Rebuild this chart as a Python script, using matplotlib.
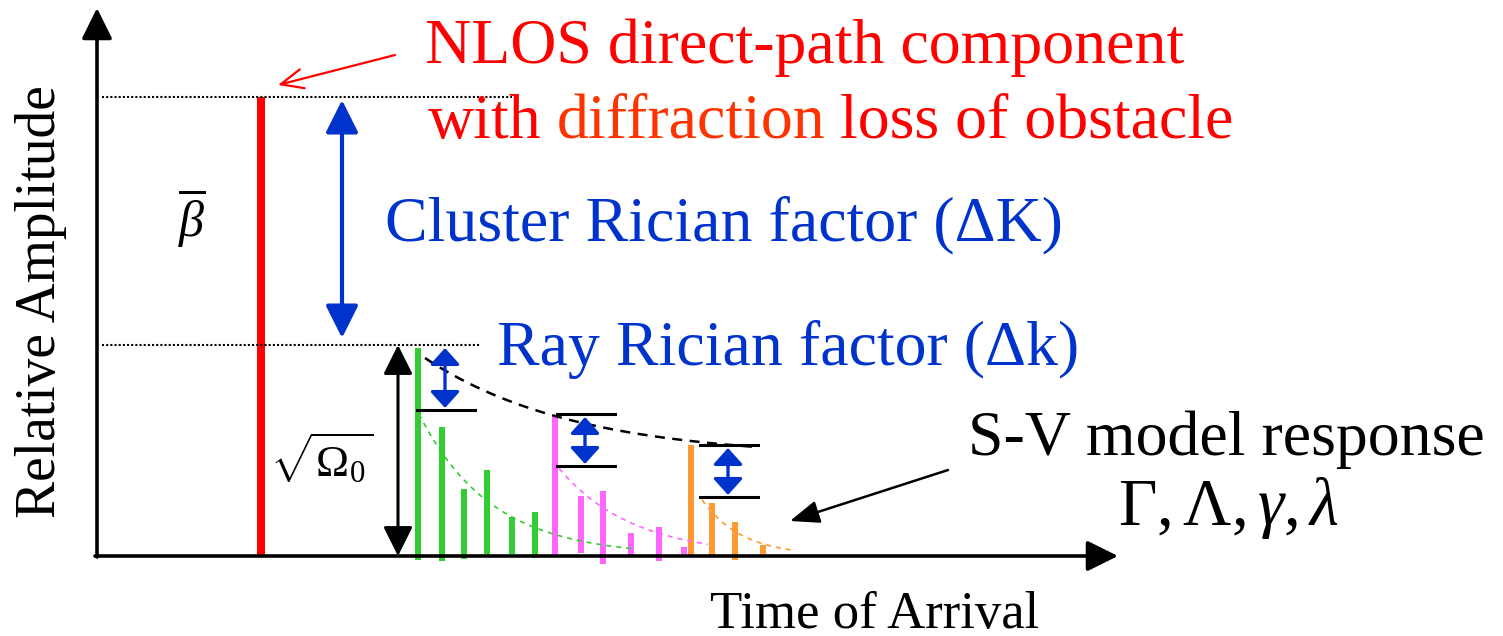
import numpy as np
import matplotlib
matplotlib.use("Agg")
import matplotlib.pyplot as plt

plt.rcParams["font.family"] = ["Liberation Serif", "DejaVu Serif"]
plt.rcParams["mathtext.fontset"] = "custom"
plt.rcParams["mathtext.rm"] = "Liberation Serif"
plt.rcParams["mathtext.it"] = "Liberation Serif:italic"

# direct (NLOS) path
los_t, los_amp = 164, 459

# rays of the three clusters: arrival time, amplitude, foot of the bar
green_t = [321, 345, 367, 390, 415, 438]
green_amp = [208, 129, 67, 86, 39, 44]
green_base = [-4, -5, -3, 2, 2, -2]
pink_t = [458, 484, 506, 534, 562, 587]
pink_amp = [141, 60, 65, 23, 29, 9]
pink_base = [2, 3, -8, 1, -5, 2]
orange_t = [594, 615, 638, 666]
orange_amp = [111, 53, 34, 11]
orange_base = [0, -1, -4, 2]

# cluster heads: upper level (first ray) and lower level (start of ray decay)
cluster_t = [320, 460, 603]
cluster_hi = [211, 142, 111]
cluster_lo = [146, 90, 59]
ray_gamma = [72, 74, 40]
ray_end = [536, 611, 696]

# cluster envelope (Gamma) with floor
env_t0, env_t1 = 328, 662
env_floor, env_a, env_gamma = 98, 100, 150

BLUE = "#0033CC"
RED = "#FF0000"
cols = ["#33CC33", "#FF66FF", "#FF9933"]


def arrow(xy, xytext, style, color, lw):
    ax.annotate("", xy=xy, xytext=xytext,
                arrowprops=dict(arrowstyle=style, lw=lw, color=color,
                                mutation_scale=20, shrinkA=0, shrinkB=0))


fig = plt.figure(figsize=(15.03, 6.36), dpi=100)
ax = fig.add_axes([0, 0, 1, 1])
ax.set_xlim(-97, 1406)
ax.set_ylim(-80, 556)
ax.axis("off")

# axes with arrow heads
arrow((0, 548), (0, -1), "-|>,head_length=0.95,head_width=0.47", "black", 2.6)
arrow((1021, 0), (-2, 0), "-|>,head_length=0.95,head_width=0.47", "black", 2.6)

# reference levels
ax.plot([5, 415], [los_amp, los_amp], color="black", lw=1.5, ls=(0, (1, 1)))
ax.plot([5, 383], [cluster_hi[0], cluster_hi[0]], color="black", lw=1.5, ls=(0, (1, 1)))

# bars
ax.bar(los_t, los_amp, width=8, color=RED)
for t, a, b, c in [(green_t, green_amp, green_base, cols[0]),
                   (pink_t, pink_amp, pink_base, cols[1]),
                   (orange_t, orange_amp, orange_base, cols[2])]:
    a, b = np.array(a), np.array(b)
    ax.bar(t, a - b, bottom=b, width=6, color=c)

# cluster decay envelope
tt = np.linspace(env_t0, env_t1, 200)
ax.plot(tt, env_floor + env_a * np.exp(-(tt - env_t0) / env_gamma),
        color="black", lw=1.8, ls=(0, (4, 3)))

# ray decay envelopes
for i in range(3):
    tt = np.linspace(cluster_t[i] + 2, ray_end[i], 200)
    ax.plot(tt, cluster_lo[i] * np.exp(-(tt - cluster_t[i]) / ray_gamma[i]),
            color=cols[i], lw=1.2, ls=(0, (3, 3)))

# cluster head markers and ray Rician arrows
for i in range(3):
    if i > 0:
        ax.plot([cluster_t[i], cluster_t[i] + 58], [cluster_hi[i]] * 2, color="black", lw=2.2)
    ax.plot([cluster_t[i], cluster_t[i] + 58], [cluster_lo[i]] * 2, color="black", lw=2.2)
    arrow((cluster_t[i] + 28, cluster_hi[i] - 3), (cluster_t[i] + 28, cluster_lo[i] + 2),
          "<|-|>,head_length=0.5,head_width=0.45", BLUE, 2.4)

# cluster Rician arrow
arrow((245, 456), (245, 218), "<|-|>,head_length=1.0,head_width=0.5", BLUE, 3)

# total cluster power arrow
arrow((301, cluster_hi[0]), (301, 0), "<|-|>,head_length=0.9,head_width=0.45", "black", 2.2)

# pointers
arrow((181, 471), (298, 501), "->,head_length=0.8,head_width=0.35", RED, 1.6)
arrow((693, 35), (851, 86), "-|>,head_length=0.9,head_width=0.35", "black", 1.8)

fs = 46
ax.text(328, 493, "NLOS direct-path component", color=RED, fontsize=fs, va="baseline")
ax.text(331, 418, "with", color=RED, fontsize=fs, va="baseline")
ax.text(460, 418, "diffraction", color="#FF3300", fontsize=fs, va="baseline")
ax.text(743, 418, "loss of obstacle", color=RED, fontsize=fs, va="baseline")
ax.text(288, 316, "Cluster Rician factor (ΔK)", color=BLUE, fontsize=fs, va="baseline")
ax.text(400, 191, "Ray Rician factor (Δk)", color=BLUE, fontsize=fs, va="baseline")
ax.text(871, 101, "S-V model response", color="black", fontsize=fs, va="baseline")
ax.text(1021, 31, r"$\Gamma,\Lambda,\gamma,\lambda$", color="black", fontsize=48, va="baseline")
ax.text(613, -72, "Time of Arrival", color="black", fontsize=38, va="baseline")
ax.text(-56, 254, "Relative Amplitude", color="black", fontsize=40, rotation=90,
        ha="center", va="center")
ax.text(95, 338, r"$\overline{\beta}$", color="black", fontsize=36, ha="center", va="center")
ax.text(225, 98, r"$\sqrt{\Omega_0}$", color="black", fontsize=32, ha="center", va="center")

fig.savefig("out.png", dpi=100)
